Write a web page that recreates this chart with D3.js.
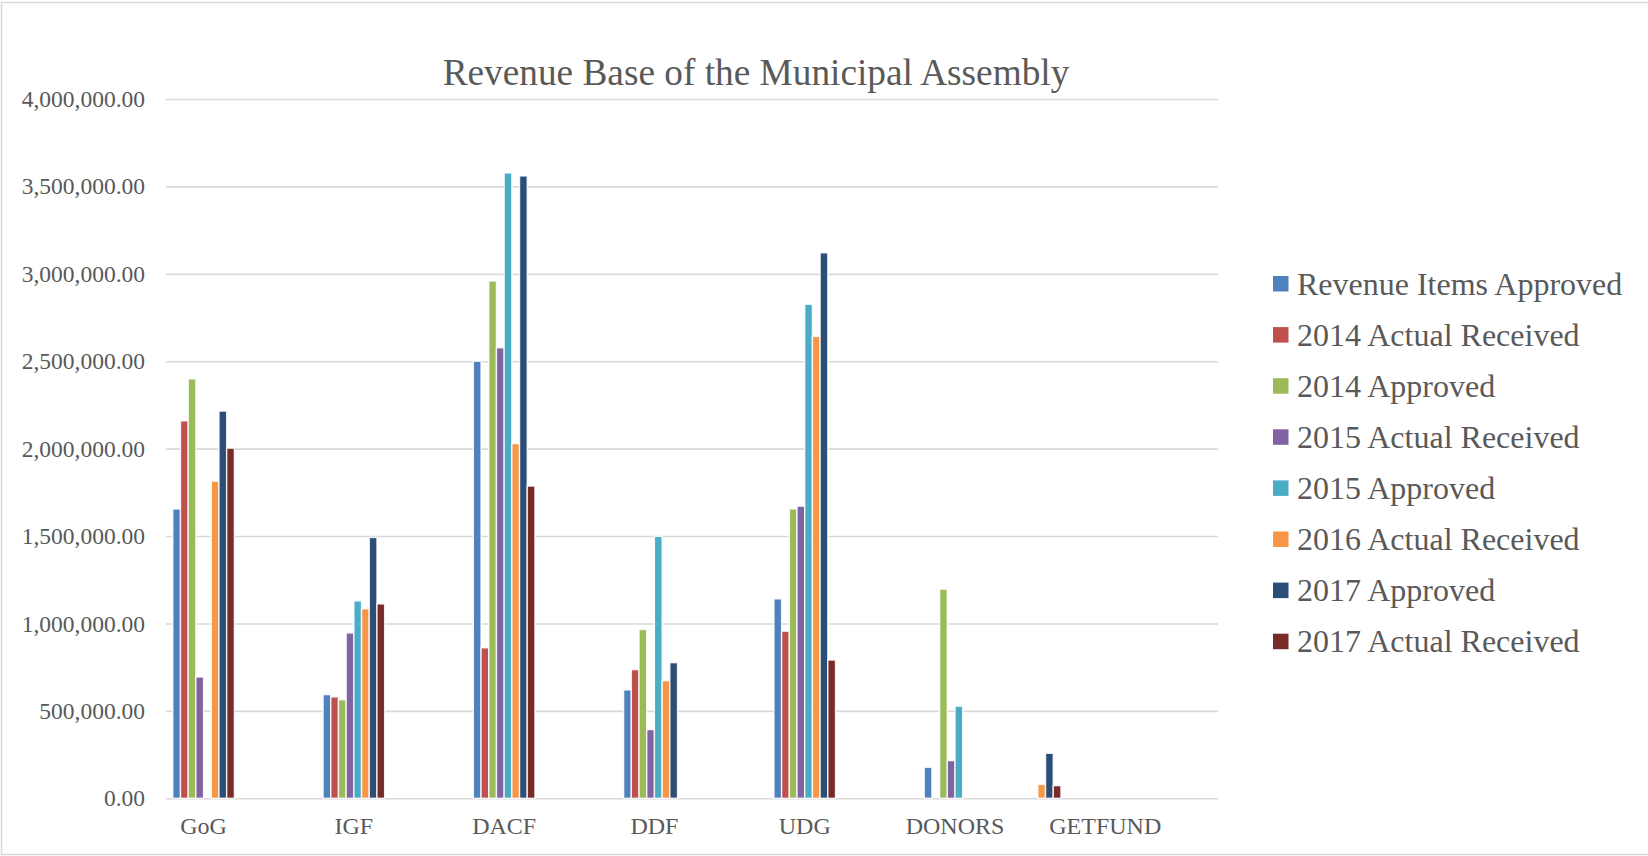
<!DOCTYPE html>
<html>
<head>
<meta charset="utf-8">
<script src="https://cdn.jsdelivr.net/npm/d3@7/dist/d3.min.js"></script>
<style>
  html, body { margin: 0; padding: 0; background: #ffffff; }
  svg { display: block; font-family: "Liberation Serif", "Times New Roman", serif; }
</style>
</head>
<body>
<svg id="chart" width="1648" height="856"></svg>
<script>
// Category rows of the revenue table (blank rows keep the sheet's spacing;
// the axis shows every second label)
const categories = ["GoG", "", "IGF", "", "DACF", "", "DDF", "", "UDG", "", "DONORS", "", "GETFUND", ""];

const seriesNames = [
  "Revenue Items Approved",
  "2014 Actual Received",
  "2014 Approved",
  "2015 Actual Received",
  "2015 Approved",
  "2016 Actual Received",
  "2017 Approved",
  "2017 Actual Received"
];

// Amounts per category row
const revenueItemsApproved = [1655000, 0, 593000, 0, 2500000, 0, 620000, 0, 1141000, 0, 177500, 0, 0, 0];
const actual2014           = [2159000, 0, 580000, 0, 861000, 0, 736000, 0, 956000, 0, 0, 0, 0, 0];
const approved2014         = [2399000, 0, 564000, 0, 2959000, 0, 966000, 0, 1655000, 0, 1196600, 0, 0, 0];
const actual2015           = [694000, 0, 946000, 0, 2577000, 0, 393000, 0, 1671000, 0, 215600, 0, 0, 0];
const approved2015         = [0, 0, 1129000, 0, 3577000, 0, 1498000, 0, 2826000, 0, 526700, 0, 0, 0];
const actual2016           = [1814000, 0, 1084000, 0, 2029000, 0, 673000, 0, 2642000, 0, 0, 80000, 0, 0];
const approved2017         = [2215000, 0, 1492000, 0, 3560000, 0, 776000, 0, 3120000, 0, 0, 257600, 0, 0];
const actual2017           = [2003000, 0, 1112000, 0, 1786000, 0, 0, 0, 791000, 0, 0, 72500, 0, 0];

const seriesValues = [
  revenueItemsApproved, actual2014, approved2014, actual2015,
  approved2015, actual2016, approved2017, actual2017
];

const yTicks = [0, 500000, 1000000, 1500000, 2000000, 2500000, 3000000, 3500000, 4000000];

const colors = ["#4F81BD", "#C0504D", "#9BBB59", "#8064A2", "#4BACC6", "#F79646", "#2C4D75", "#772C2A"];

const svg = d3.select("#chart");
const textColor = "#595959";
const gridColor = "#D9D9D9";
const serif = "'Liberation Serif', 'Times New Roman', serif";

// Chart area border
svg.append("rect")
  .attr("x", 1.5).attr("y", 2.5)
  .attr("width", 1660).attr("height", 852)
  .attr("fill", "none")
  .attr("stroke", gridColor)
  .attr("stroke-width", 1.5);

const plot = { left: 166, right: 1218, top: 99, bottom: 798.3 };

const x0 = d3.scaleBand()
  .domain(d3.range(categories.length))
  .range([plot.left, plot.right])
  .padding(0);

const x1 = d3.scaleBand()
  .domain(d3.range(seriesNames.length))
  .range([0, x0.bandwidth()])
  .paddingInner(0)
  .paddingOuter(0.88);

const y = d3.scaleLinear()
  .domain([0, 4000000])
  .range([plot.bottom, plot.top]);

// Gridlines and value labels
const yAxis = svg.append("g")
  .attr("transform", `translate(${plot.left},0)`)
  .call(d3.axisLeft(y)
    .tickValues(yTicks)
    .tickSize(-(plot.right - plot.left))
    .tickPadding(21)
    .tickFormat(d3.format(",.2f")));
yAxis.select(".domain").remove();
yAxis.selectAll(".tick line")
  .attr("stroke", gridColor)
  .attr("stroke-width", 1.6);
yAxis.selectAll(".tick text")
  .attr("fill", textColor)
  .attr("font-size", 23.5)
  .attr("font-family", serif);

// Category labels
const xAxis = svg.append("g")
  .attr("transform", `translate(0,${plot.bottom})`)
  .call(d3.axisBottom(x0)
    .tickValues(d3.range(categories.length).filter(i => categories[i] !== ""))
    .tickSize(0)
    .tickPadding(19)
    .tickFormat(i => categories[i]));
xAxis.select(".domain").remove();
xAxis.selectAll(".tick text")
  .attr("fill", textColor)
  .attr("font-size", 24)
  .attr("font-family", serif);

// Clustered columns
const groups = svg.append("g").selectAll("g")
  .data(d3.range(categories.length))
  .join("g")
  .attr("transform", i => `translate(${x0(i)},0)`);

groups.selectAll("rect")
  .data(i => seriesValues.map((vals, s) => ({ s, v: vals[i] })).filter(d => d.v > 0))
  .join("rect")
  .attr("x", d => x1(d.s))
  .attr("width", x1.bandwidth())
  .attr("y", d => y(d.v))
  .attr("height", d => y(0) - y(d.v))
  .attr("fill", d => colors[d.s])
  .attr("stroke", "#ffffff")
  .attr("stroke-opacity", 0.85)
  .attr("stroke-width", 1.4);

// Title
svg.append("text")
  .attr("x", 756)
  .attr("y", 85)
  .attr("text-anchor", "middle")
  .attr("fill", textColor)
  .attr("font-size", 37.3)
  .text("Revenue Base of the Municipal Assembly");

// Legend
const legend = svg.append("g").attr("transform", "translate(1273,276)");
const items = legend.selectAll("g")
  .data(seriesNames)
  .join("g")
  .attr("transform", (d, i) => `translate(0,${i * 51.1})`);
items.append("rect")
  .attr("width", 15.5)
  .attr("height", 15.5)
  .attr("fill", (d, i) => colors[i]);
items.append("text")
  .attr("x", 24)
  .attr("y", 18.5)
  .attr("fill", textColor)
  .attr("font-size", 32)
  .text(d => d);
</script>
</body>
</html>
